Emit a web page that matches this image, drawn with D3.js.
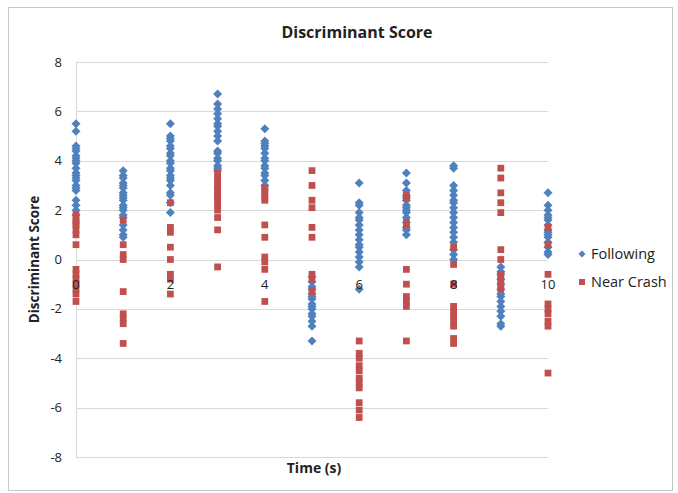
<html lang="en">
<head>
  <meta charset="UTF-8">
  <title>Discriminant Score</title>
  <style>
    body { margin: 0; background: #fff; }
    text { font-family: "Open Sans", "Liberation Sans", sans-serif; fill: #222; }
  </style>
</head>
<body>
  <div id="my_dataviz"></div>
  <script src="https://d3js.org/d3.v7.min.js"></script>
  <script>

    // time steps (s)
    const times = [0, 1, 2, 3, 4, 5, 6, 7, 8, 9, 10];

    // Following scores per time step
    const following = [
      [5.5, 5.2, 4.6, 4.5, 4.4, 4.2, 4.1, 4.0, 3.9, 3.7, 3.5, 3.4, 3.3, 3.2, 3.0, 2.9, 2.8, 2.4, 2.2, 2.0, 1.8],
      [3.6, 3.4, 3.3, 3.1, 3.0, 2.9, 2.7, 2.6, 2.5, 2.4, 2.2, 2.1, 2.0, 1.8, 1.7, 1.4, 1.2, 1.0, 0.9],
      [5.5, 5.0, 4.9, 4.8, 4.6, 4.5, 4.3, 4.2, 4.0, 3.9, 3.7, 3.6, 3.4, 3.3, 3.2, 3.0, 2.7, 2.6, 2.3, 1.9],
      [6.7, 6.3, 6.1, 5.9, 5.7, 5.5, 5.4, 5.2, 5.0, 4.8, 4.4, 4.3, 4.1, 4.0, 3.8, 3.7, 3.6],
      [5.3, 4.8, 4.7, 4.6, 4.5, 4.3, 4.1, 4.0, 3.8, 3.7, 3.5, 3.4, 3.2, 3.0],
      [-0.7, -0.9, -1.1, -1.2, -1.4, -1.5, -1.6, -1.8, -1.9, -2.0, -2.2, -2.3, -2.5, -2.7, -3.3],
      [3.1, 2.3, 2.2, 1.9, 1.7, 1.6, 1.4, 1.2, 1.0, 0.8, 0.6, 0.5, 0.3, 0.1, -0.1, -0.3, -1.2],
      [3.5, 3.1, 2.8, 2.6, 2.5, 2.4, 2.2, 2.1, 2.0, 1.9, 1.7, 1.5, 1.3, 1.2, 1.0],
      [3.8, 3.7, 3.0, 2.8, 2.6, 2.4, 2.3, 2.1, 1.9, 1.7, 1.5, 1.3, 1.1, 0.9, 0.7, 0.4, 0.2, 0.0],
      [-0.3, -0.5, -0.6, -0.8, -1.0, -1.2, -1.4, -1.5, -1.7, -1.9, -2.1, -2.3, -2.6, -2.7],
      [2.7, 2.2, 2.0, 1.8, 1.7, 1.6, 1.4, 1.2, 1.1, 1.0, 0.9, 0.7, 0.5, 0.3, 0.2]
    ];

    // Near Crash scores per time step
    const nearCrash = [
      [1.8, 1.6, 1.5, 1.4, 1.2, 1.0, 0.6, -0.4, -0.6, -0.8, -1.0, -1.2, -1.4, -1.7],
      [1.6, 0.6, 0.2, 0.0, -1.3, -2.2, -2.4, -2.6, -3.4],
      [2.3, 1.3, 1.1, 0.5, 0.0, -0.6, -0.8, -1.4],
      [3.5, 3.3, 3.2, 3.0, 2.9, 2.8, 2.6, 2.5, 2.4, 2.2, 2.0, 1.7, 1.2, -0.3],
      [2.9, 2.8, 2.7, 2.5, 2.4, 1.4, 0.9, 0.1, -0.1, -0.4, -1.7],
      [3.6, 3.0, 2.4, 2.1, 1.3, 0.9, -0.6, -0.8, -1.3],
      [-3.3, -3.8, -4.0, -4.3, -4.5, -4.8, -5.0, -5.2, -5.8, -6.1, -6.4],
      [2.6, 2.5, 1.5, 1.4, -0.4, -1.0, -1.5, -1.7, -1.9, -3.3],
      [0.5, -0.2, -1.0, -1.9, -2.1, -2.3, -2.5, -2.7, -3.2, -3.4],
      [3.7, 3.3, 2.7, 2.3, 1.9, 0.4, 0.0, -0.6, -0.8, -1.0, -1.2],
      [1.3, 0.6, -0.6, -1.8, -2.0, -2.2, -2.5, -2.7, -4.6]
    ];

    const xTicks = [0, 2, 4, 6, 8, 10];
    const yTicks = [-8, -6, -4, -2, 0, 2, 4, 6, 8];
    const seriesNames = ["Following", "Near Crash"];
    const colors = ["#4f81bd", "#c0504d"];

    const W = 678, H = 493;
    const plot = { left: 76, right: 548, top: 62, bottom: 457 };

    const svg = d3.select("#my_dataviz")
      .append("svg")
      .attr("width", W)
      .attr("height", H);

    // chart border
    svg.append("rect")
      .attr("x", 8.5).attr("y", 7.5)
      .attr("width", 664).attr("height", 483)
      .attr("fill", "#fff")
      .attr("stroke", "#c8c8c8");

    const x = d3.scaleLinear().domain([0, 10]).range([plot.left, plot.right]);
    const y = d3.scaleLinear().domain([-8, 8]).range([plot.bottom, plot.top]);

    // gridlines
    svg.append("g")
      .selectAll("line")
      .data(yTicks)
      .join("line")
      .attr("x1", plot.left).attr("x2", plot.right)
      .attr("y1", d => Math.round(y(d)) + 0.5)
      .attr("y2", d => Math.round(y(d)) + 0.5)
      .attr("stroke", "#d9d9d9");

    // vertical axis line
    svg.append("line")
      .attr("x1", x(0) + 0.5).attr("x2", x(0) + 0.5)
      .attr("y1", plot.top).attr("y2", plot.bottom)
      .attr("stroke", "#d9d9d9");

    // y tick labels
    svg.append("g")
      .selectAll("text")
      .data(yTicks)
      .join("text")
      .attr("x", 62)
      .attr("y", d => y(d))
      .attr("dy", "0.35em")
      .attr("text-anchor", "end")
      .style("font-size", "13px")
      .text(d => d);

    // flatten data into points
    const points = [];
    [following, nearCrash].forEach((series, s) => {
      series.forEach((vals, i) => {
        vals.forEach(v => points.push({ s: s, t: times[i], v: v }));
      });
    });

    const diamond = "M0,-4.5L4.5,0L0,4.5L-4.5,0Z";
    const square = d3.symbol(d3.symbolSquare, 46)();

    svg.append("g")
      .selectAll("path")
      .data(points)
      .join("path")
      .attr("transform", d => `translate(${x(d.t)},${y(d.v)})`)
      .attr("d", d => d.s === 0 ? diamond : square)
      .attr("fill", d => colors[d.s]);

    // x tick labels, sitting under the zero line
    svg.append("g")
      .selectAll("text")
      .data(xTicks)
      .join("text")
      .attr("x", d => x(d))
      .attr("y", y(0) + 29)
      .attr("text-anchor", "middle")
      .style("font-size", "13px")
      .text(d => d);

    // title
    svg.append("text")
      .attr("x", 357).attr("y", 38)
      .attr("text-anchor", "middle")
      .style("font-size", "16px")
      .style("font-weight", "bold")
      .text("Discriminant Score");

    // axis titles
    svg.append("text")
      .attr("x", 314).attr("y", 473)
      .attr("text-anchor", "middle")
      .style("font-size", "14px")
      .style("font-weight", "bold")
      .text("Time (s)");

    svg.append("text")
      .attr("transform", `translate(39,${y(0)}) rotate(-90)`)
      .attr("text-anchor", "middle")
      .style("font-size", "13.5px")
      .style("font-weight", "bold")
      .text("Discriminant Score");

    // legend
    const legend = svg.append("g")
      .selectAll("g")
      .data(seriesNames)
      .join("g")
      .attr("transform", (d, i) => `translate(582,${254 + i * 28})`);

    legend.append("path")
      .attr("d", (d, i) => i === 0 ? "M0,-3.5L3.5,0L0,3.5L-3.5,0Z" : d3.symbol(d3.symbolSquare, 36)())
      .attr("fill", (d, i) => colors[i]);

    legend.append("text")
      .attr("x", 9)
      .attr("dy", "0.35em")
      .style("font-size", "14.5px")
      .text(d => d);

  </script>
</body>
</html>
